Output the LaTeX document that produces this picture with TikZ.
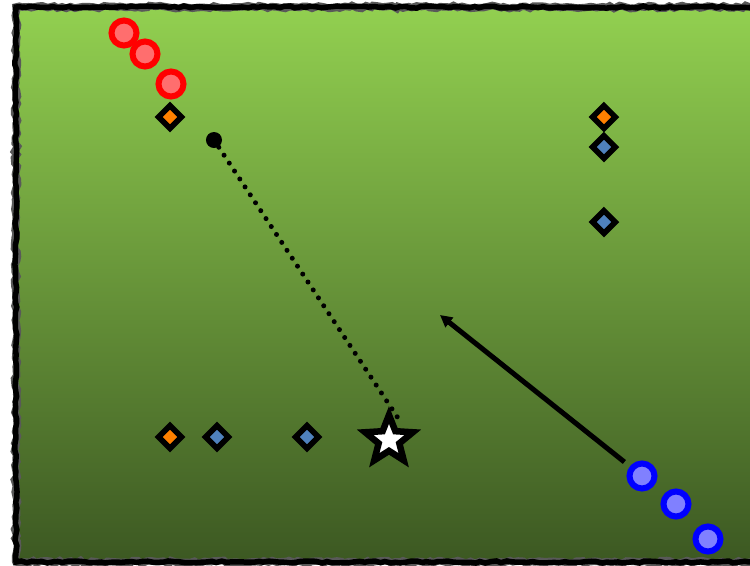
\documentclass[tikz,border=0pt]{standalone}
\usepackage{tikz}
\usetikzlibrary{arrows.meta,shapes.geometric,decorations.pathmorphing}

\definecolor{fieldtop}{RGB}{146,208,80}
\definecolor{fieldbot}{RGB}{60,88,34}
\definecolor{redfill}{RGB}{255,110,110}
\definecolor{bluefill}{RGB}{128,128,255}
\definecolor{conorange}{RGB}{255,128,0}
\definecolor{conblue}{RGB}{79,129,189}

\begin{document}
\begin{tikzpicture}[x=0.01cm,y=-0.01cm,
  redp/.style={circle,draw=red,fill=redfill,line width=0.06cm,minimum size=0.25cm,inner sep=0pt},
  bluep/.style={circle,draw=blue,fill=bluefill,line width=0.06cm,minimum size=0.25cm,inner sep=0pt},
  cone/.style={diamond,draw=black,fill=#1,line width=0.055cm,minimum size=0.25cm,inner sep=0pt}]
\useasboundingbox (0,0) rectangle (750,566);
\clip (0,0) rectangle (750,566);
\pgfmathsetseed{7}
% Field
\shade[top color=fieldtop,bottom color=fieldbot] (16,7) rectangle (775,562);
\draw[gray!70!black,line width=0.075cm,decorate,decoration={random steps,segment length=1.2pt,amplitude=0.45pt}] (16,7) rectangle (775,562);
\draw[line width=0.055cm,decorate,decoration={random steps,segment length=1.5pt,amplitude=0.3pt}] (16,7) rectangle (775,562);
% Red team
\foreach \n/\x/\y in {1/124/33,2/145/54,3/171/84} {
  \node[redp] (r\n) at (\x,\y) {};
}
% Blue team
\foreach \n/\x/\y in {1/642/476,2/676/504,3/708/539} {
  \node[bluep] (b\n) at (\x,\y) {};
}
% Cones
\node[cone=conorange] (c1) at (170,117) {};
\node[cone=conorange] (c2) at (604,117) {};
\node[cone=conblue] (c3) at (604,147) {};
\node[cone=conblue] (c4) at (604,222) {};
\node[cone=conorange] (c5) at (170,437) {};
\node[cone=conblue] (c6) at (217,437) {};
\node[cone=conblue] (c7) at (307,437) {};
% Ball and its path to the goal
\node[circle,fill=black,minimum size=0.16cm,inner sep=0pt] (ball) at (214,140) {};
\coordinate (shot) at (398,418);
\draw[line width=0.05cm,line cap=round,dash pattern=on 0pt off 0.095cm] (ball) -- (shot);
\node[star,star points=5,star point ratio=2.3,draw=black,fill=white,line width=0.065cm,
  minimum size=0.5cm,inner sep=0pt] (goal) at (389,440) {};
% Run
\coordinate (run) at (440,315);
\draw[line width=0.05cm,-{Triangle[length=0.12cm,width=0.12cm]},shorten <=0.07cm] (b1) -- (run);
\end{tikzpicture}
\end{document}
